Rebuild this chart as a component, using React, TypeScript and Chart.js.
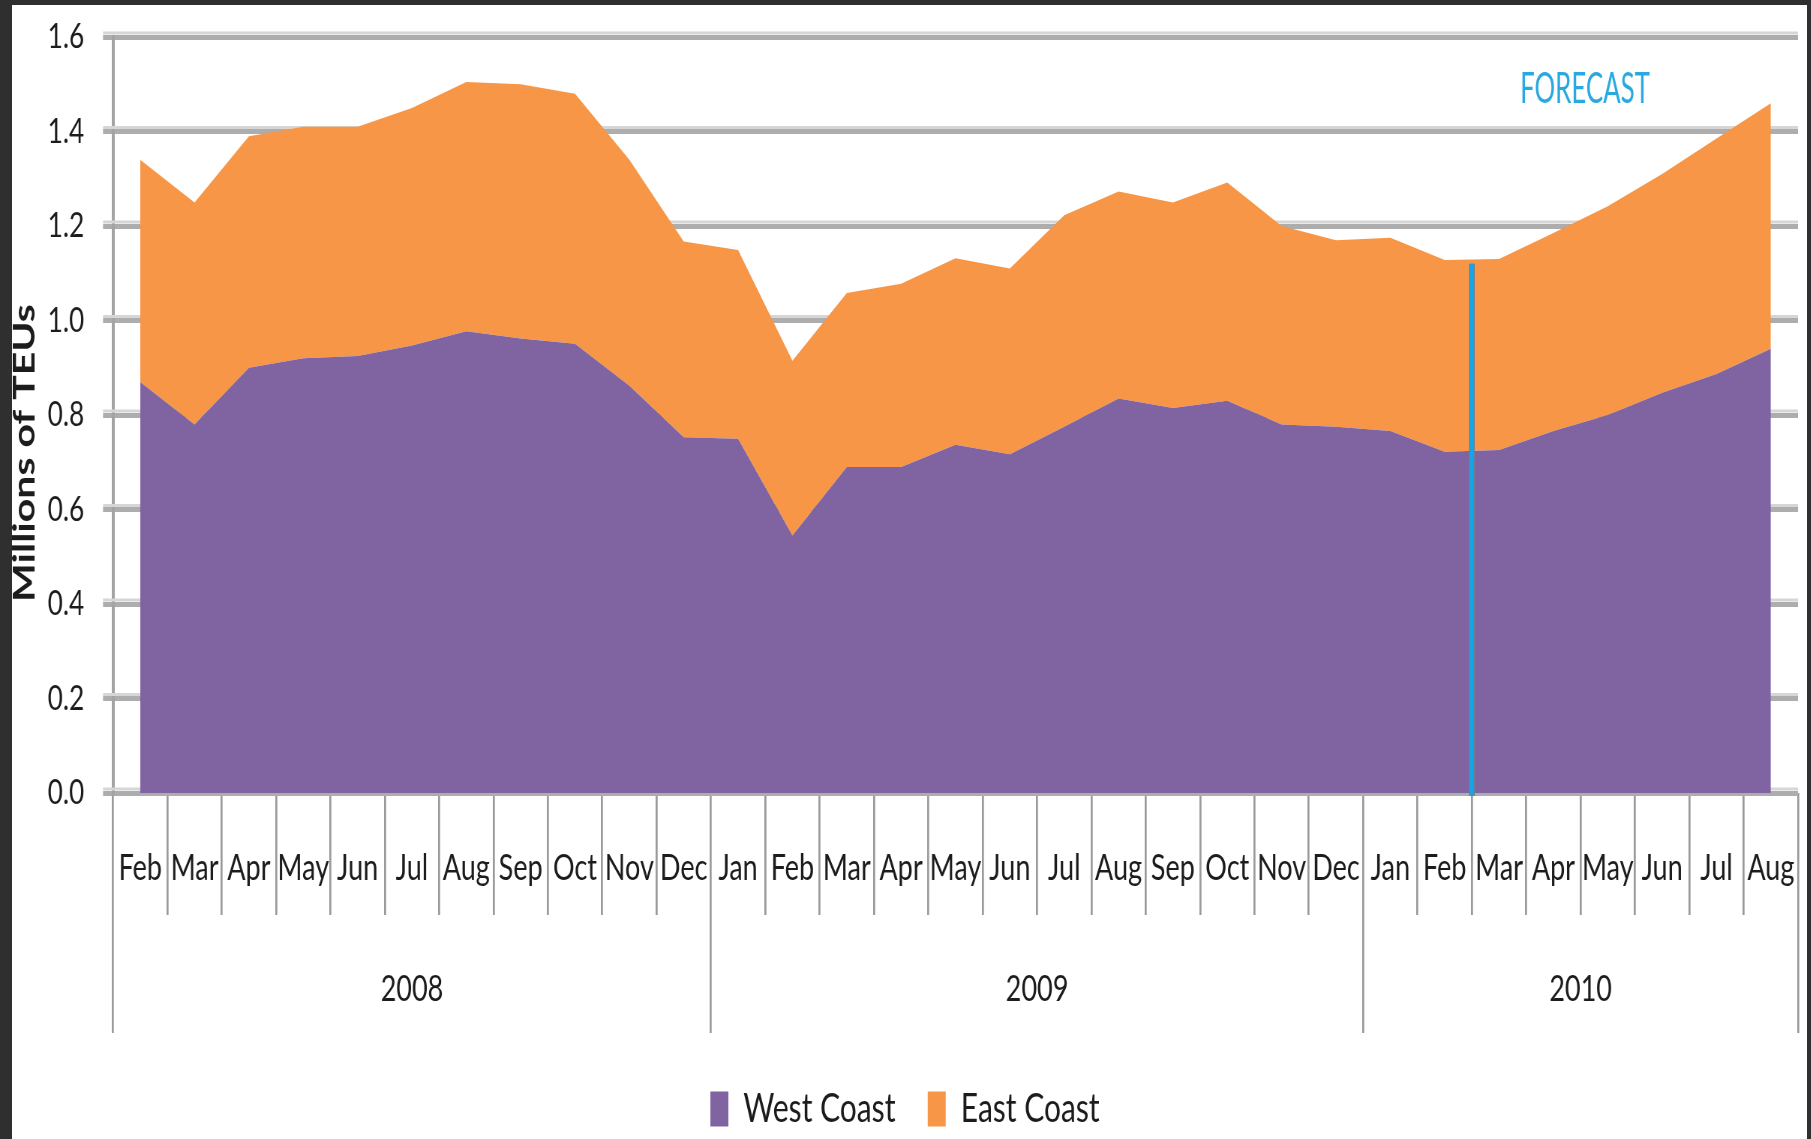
import { useEffect, useRef } from 'react';
import { Chart, registerables } from 'chart.js';

Chart.register(...registerables);

// ---------- data ----------
const MONTH_LABELS = [
  'Feb', 'Mar', 'Apr', 'May', 'Jun', 'Jul', 'Aug', 'Sep', 'Oct', 'Nov', 'Dec',
  'Jan', 'Feb', 'Mar', 'Apr', 'May', 'Jun', 'Jul', 'Aug', 'Sep', 'Oct', 'Nov', 'Dec',
  'Jan', 'Feb', 'Mar', 'Apr', 'May', 'Jun', 'Jul', 'Aug',
];
const YEAR_LABELS = ['2008', '2009', '2010'];
const YEAR_FIRST_INDEX = [0, 11, 23];

const SERIES_NAMES = ['West Coast', 'East Coast'];
const WEST_COAST = [
  0.87, 0.78, 0.90, 0.92, 0.925, 0.947, 0.977, 0.962, 0.951, 0.862, 0.753,
  0.75, 0.545, 0.69, 0.69, 0.737, 0.717, 0.775, 0.835, 0.815, 0.83, 0.78, 0.775,
  0.766, 0.722, 0.726, 0.766, 0.80, 0.847, 0.887, 0.94,
];
const EAST_COAST = [
  0.47, 0.47, 0.49, 0.49, 0.485, 0.503, 0.528, 0.538, 0.529, 0.478, 0.414,
  0.399, 0.37, 0.368, 0.388, 0.395, 0.393, 0.448, 0.438, 0.435, 0.462, 0.42, 0.395,
  0.409, 0.406, 0.404, 0.419, 0.442, 0.463, 0.498, 0.52,
];
const Y_TICKS = [0, 0.2, 0.4, 0.6, 0.8, 1.0, 1.2, 1.4, 1.6];
const Y_TITLE = 'Millions of TEUs';

const FORECAST_LABEL = 'FORECAST';
const FORECAST_LAST_ACTUAL_INDEX = 24; // divider drawn after Feb 2010
const FORECAST_LINE_TOP = 1.12;
const FORECAST_LABEL_AT = { x: 26.58, y: 1.488 };

// ---------- layout (px) ----------
const BOX_W = 1795;
const BOX_H = 1134;
const SQUEEZE = 0.75; // horizontal compression of the original picture
const CANVAS_W = Math.round(BOX_W / SQUEEZE);
const R = CANVAS_W / BOX_W;

const PLOT_LEFT = 101;
const PLOT_RIGHT = 1786;
const PLOT_TOP = 32;
const MONTH_ROW_H = 122;
const YEAR_ROW_H = 131;
const LEGEND_H = 100;
const LEGEND_PAD = 43;

const PURPLE = '#8064A2';
const ORANGE = '#F79646';
const GRID_DARK = '#adadad';
const GRID_LIGHT = '#d6d6d6';
const TICK_GREY = '#9a9a9a';
const TEXT = '#1c1c1c';
const FONT = "Lato, 'Open Sans', sans-serif";

// derived year ticks
const N = MONTH_LABELS.length;
const YEAR_LAST_INDEX = YEAR_FIRST_INDEX.map((f, k) =>
  k < YEAR_FIRST_INDEX.length - 1 ? YEAR_FIRST_INDEX[k + 1] - 1 : N - 1
);
const YEAR_BOUNDS = [...YEAR_FIRST_INDEX.map((f) => f - 0.5), N - 0.5];
const YEAR_CENTRES = YEAR_FIRST_INDEX.map((f, k) => (f + YEAR_LAST_INDEX[k]) / 2);
const YEAR_TICKS = [...YEAR_BOUNDS, ...YEAR_CENTRES].sort((a, b) => a - b);

const decorations = {
  id: 'decorations',
  beforeDatasetsDraw(chart: any) {
    const { ctx, chartArea } = chart;
    const y = chart.scales.y;
    const tl = 10 * R;
    ctx.save();
    ctx.fillStyle = GRID_LIGHT;
    y.ticks.forEach((t: any) => {
      const p = y.getPixelForValue(t.value);
      ctx.fillRect(chartArea.left - tl, p - 5.5, chartArea.right - chartArea.left + tl, 3);
    });
    ctx.restore();
  },
  afterDatasetsDraw(chart: any) {
    const { ctx } = chart;
    const y = chart.scales.y;
    const x2 = chart.scales.x2;
    const px = x2.getPixelForValue(FORECAST_LAST_ACTUAL_INDEX + 0.5);
    const top = y.getPixelForValue(FORECAST_LINE_TOP);
    const bottom = y.getPixelForValue(0) + 3;
    ctx.save();
    ctx.lineCap = 'butt';
    ctx.strokeStyle = '#6d8196';
    ctx.lineWidth = 7.5;
    ctx.beginPath();
    ctx.moveTo(px, top);
    ctx.lineTo(px, bottom);
    ctx.stroke();
    ctx.strokeStyle = '#12a6ea';
    ctx.lineWidth = 4.5;
    ctx.beginPath();
    ctx.moveTo(px, top);
    ctx.lineTo(px, bottom);
    ctx.stroke();
    ctx.restore();
  },
  afterDraw(chart: any) {
    const { ctx } = chart;
    const y = chart.scales.y;
    const x2 = chart.scales.x2;
    ctx.save();
    // y axis title
    ctx.translate(12.5 * R, 448);
    ctx.rotate(-Math.PI / 2);
    ctx.font = `bold 41px ${FONT}`;
    ctx.fillStyle = TEXT;
    ctx.textAlign = 'center';
    ctx.textBaseline = 'middle';
    ctx.fillText(Y_TITLE, 0, 0);
    ctx.restore();

    // forecast label
    ctx.save();
    ctx.translate(x2.getPixelForValue(FORECAST_LABEL_AT.x), y.getPixelForValue(FORECAST_LABEL_AT.y));
    ctx.scale(0.82, 1);
    ctx.font = `42px ${FONT}`;
    ctx.fillStyle = '#29a9e1';
    ctx.textAlign = 'center';
    ctx.textBaseline = 'middle';
    ctx.fillText(FORECAST_LABEL, 0, 0);
    ctx.restore();
  },
};

export default function App() {
  const ref = useRef<HTMLCanvasElement | null>(null);

  useEffect(() => {
    if (!ref.current) return;
    Chart.defaults.font.family = FONT;
    const chart = new Chart(ref.current, {
      type: 'line',
      data: {
        labels: MONTH_LABELS,
        datasets: [
          {
            label: SERIES_NAMES[0],
            data: WEST_COAST,
            xAxisID: 'x',
            yAxisID: 'y',
            backgroundColor: PURPLE,
            borderColor: PURPLE,
            borderWidth: 0,
            pointRadius: 0,
            fill: 'origin',
            tension: 0,
          },
          {
            label: SERIES_NAMES[1],
            data: EAST_COAST,
            xAxisID: 'x',
            yAxisID: 'y',
            backgroundColor: ORANGE,
            borderColor: ORANGE,
            borderWidth: 0,
            pointRadius: 0,
            fill: '-1',
            tension: 0,
          },
        ],
      },
      options: {
        responsive: false,
        maintainAspectRatio: false,
        devicePixelRatio: 1,
        animation: false,
        events: [],
        layout: {
          padding: { left: 0, right: (BOX_W - PLOT_RIGHT) * R, top: PLOT_TOP, bottom: 0 },
        },
        scales: {
          x: {
            type: 'category',
            axis: 'x',
            position: 'bottom',
            weight: 1,
            offset: true,
            grid: {
              offset: true,
              drawOnChartArea: false,
              drawTicks: true,
              tickLength: MONTH_ROW_H,
              color: TICK_GREY,
              lineWidth: 2.7,
            },
            border: { display: false },
            ticks: {
              autoSkip: false,
              maxRotation: 0,
              minRotation: 0,
              font: { size: 36 },
              color: TEXT,
              padding: -68,
            },
            afterFit: (s: any) => {
              s.height = MONTH_ROW_H;
            },
          },
          x2: {
            type: 'linear',
            axis: 'x',
            position: 'bottom',
            weight: 2,
            min: -0.5,
            max: N - 0.5,
            offset: false,
            afterBuildTicks: (s: any) => {
              s.ticks = YEAR_TICKS.map((v) => ({ value: v }));
            },
            grid: {
              drawOnChartArea: false,
              drawTicks: true,
              tickLength: 118,
              lineWidth: 2.7,
              color: (c: any) =>
                c.tick && YEAR_BOUNDS.includes(c.tick.value) ? TICK_GREY : 'rgba(0,0,0,0)',
            },
            border: { display: false },
            ticks: {
              autoSkip: false,
              maxRotation: 0,
              minRotation: 0,
              font: { size: 36 },
              color: TEXT,
              padding: -65,
              callback: (v: any) => {
                const k = YEAR_CENTRES.indexOf(Number(v));
                return k >= 0 ? YEAR_LABELS[k] : '';
              },
            },
            afterFit: (s: any) => {
              s.height = YEAR_ROW_H;
            },
          },
          y: {
            type: 'linear',
            stacked: true,
            min: 0,
            max: 1.6,
            afterBuildTicks: (s: any) => {
              s.ticks = Y_TICKS.map((v) => ({ value: v }));
            },
            grid: {
              color: GRID_DARK,
              lineWidth: 5,
              drawTicks: true,
              tickLength: 10 * R,
            },
            border: { display: true, color: '#a3a3a3', width: 4 },
            ticks: {
              font: { size: 35, lineHeight: 0.3 },
              color: TEXT,
              padding: 25,
              callback: (v: any) => Number(v).toFixed(1),
            },
            afterFit: (s: any) => {
              s.width = PLOT_LEFT * R;
            },
          },
        },
        plugins: {
          legend: {
            display: true,
            position: 'bottom',
            maxHeight: LEGEND_H,
            labels: {
              boxWidth: 24,
              boxHeight: 35,
              padding: LEGEND_PAD,
              color: TEXT,
              font: { size: 40 },
            },
          },
          tooltip: { enabled: false },
          title: { display: false },
        },
      } as any,
      plugins: [decorations],
    });
    return () => chart.destroy();
  }, []);

  return (
    <div
      style={{
        position: 'fixed',
        left: 0,
        top: 0,
        width: 1811,
        height: 1139,
        background: '#2f2f2f',
        overflow: 'hidden',
      }}
    >
      <div
        style={{
          position: 'absolute',
          left: 12,
          top: 5,
          width: BOX_W,
          height: BOX_H,
          background: '#ffffff',
        }}
      >
        <canvas
          ref={ref}
          width={CANVAS_W}
          height={BOX_H}
          style={{ width: `${BOX_W}px`, height: `${BOX_H}px`, display: 'block' }}
        />
      </div>
    </div>
  );
}
